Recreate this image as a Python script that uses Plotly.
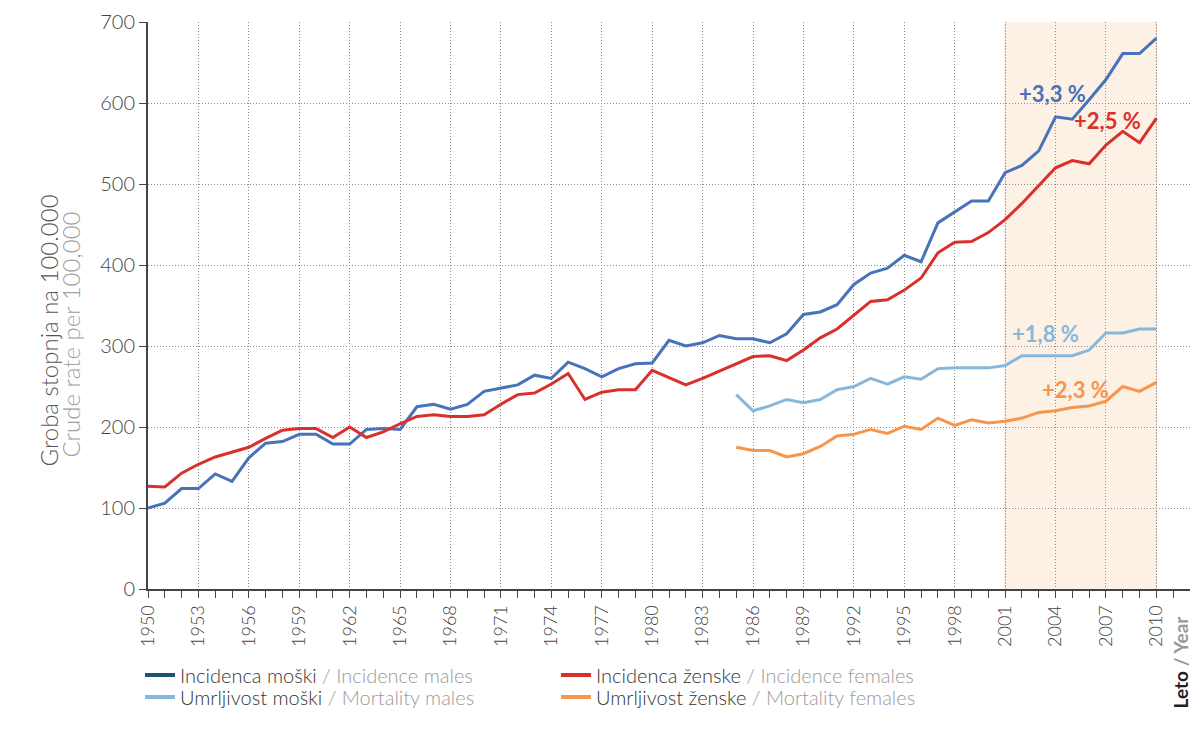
import plotly.graph_objects as go

years = list(range(1950, 2011))
years_mort = list(range(1985, 2011))

inc_males = [100, 106, 124, 124, 142, 133, 162, 180, 182, 191,
             191, 179, 179, 197, 198, 197, 225, 228, 222, 228,
             244, 248, 252, 264, 260, 280, 272, 262, 272, 278,
             279, 307, 300, 304, 313, 309, 309, 304, 315, 339,
             342, 351, 376, 390, 396, 412, 404, 452, 466, 479,
             479, 514, 523, 541, 583, 580, 604, 629, 661, 661,
             680]
inc_females = [127, 126, 143, 154, 163, 169, 175, 186, 196, 198,
               198, 187, 200, 187, 194, 204, 213, 215, 213, 213,
               215, 228, 240, 242, 253, 266, 234, 243, 246, 246,
               270, 261, 252, 260, 269, 278, 287, 288, 282, 295,
               310, 321, 338, 355, 357, 369, 384, 415, 428, 429,
               440, 456, 476, 498, 520, 529, 525, 548, 565, 551,
               581]
mort_males = [240, 220, 226, 234, 230, 234, 246, 250, 260, 253,
              262, 259, 272, 273, 273, 273, 276, 288, 288, 288,
              288, 295, 316, 316, 321, 321]
mort_females = [175, 171, 171, 163, 167, 176, 189, 191, 197, 192,
                201, 197, 211, 202, 209, 205, 207, 211, 218, 220,
                224, 226, 232, 250, 244, 255]

series_names = [
    "Incidenca moški <span style='color:#9a9a9a'>/ Incidence males</span>",
    "Incidenca ženske <span style='color:#9a9a9a'>/ Incidence females</span>",
    "Umrljivost moški <span style='color:#9a9a9a'>/ Mortality males</span>",
    "Umrljivost ženske <span style='color:#9a9a9a'>/ Mortality females</span>",
]
line_colors = ["#4673BA", "#D9302B", "#87B8DC", "#F7954B"]
legend_colors = ["#1F5177", "#D9302B", "#87B8DC", "#F7954B"]
legend_groups = ["legend", "legend", "legend2", "legend2"]

trend_labels = ["+3,3 %", "+2,5 %", "+1,8 %", "+2,3 %"]
shade_start, shade_end = 2001, 2010

FONT = "Lato"

fig = go.Figure()
data = [(years, inc_males), (years, inc_females), (years_mort, mort_males), (years_mort, mort_females)]
for (xs, ys), c in zip(data, line_colors):
    fig.add_trace(go.Scatter(x=xs, y=ys, mode="lines", line=dict(color=c, width=3),
                             showlegend=False, hoverinfo="skip"))
for name, c, lg in zip(series_names, legend_colors, legend_groups):
    fig.add_trace(go.Scatter(x=[None], y=[None], mode="lines", name=name, legend=lg,
                             line=dict(color=c, width=4)))

fig.add_shape(type="rect", xref="x", yref="y", x0=shade_start, x1=shade_end, y0=0, y1=700,
              fillcolor="#FDF0E4", line=dict(width=0), layer="below")
for xv in (shade_start, shade_end):
    fig.add_shape(type="line", xref="x", yref="y", x0=xv, x1=xv, y0=0, y1=700,
                  line=dict(color="#D9A07A", width=1, dash="1px,2px"), layer="below")

# trend annotations
ann_pos = [(2003.8, 612), (2007.1, 578), (2003.4, 315), (2005.2, 246)]
for lab, c, (ax, ay) in zip(trend_labels, line_colors, ann_pos):
    fig.add_annotation(x=ax, y=ay, xref="x", yref="y", text=lab, showarrow=False,
                       font=dict(family=FONT, size=22, color=c, weight=700))

# y axis title
fig.add_annotation(xref="paper", yref="paper", x=(31 - 148) / 1042, y=(589 - 331) / 567,
                   text="Groba stopnja na 100.000", textangle=-90, showarrow=False,
                   font=dict(family=FONT, size=24, color="#555555", weight=300))
fig.add_annotation(xref="paper", yref="paper", x=(53 - 148) / 1042, y=(589 - 335) / 567,
                   text="Crude rate per 100,000", textangle=-90, showarrow=False,
                   font=dict(family=FONT, size=24, color="#a0a0a0", weight=300))
# x axis title
fig.add_annotation(xref="paper", yref="paper", x=(1180 - 148) / 1042, y=(589 - 711) / 567,
                   yanchor="bottom", xanchor="center",
                   text="<b>Leto</b> <b><span style='color:#999999'>/ Year</span></b>",
                   textangle=-90, showarrow=False,
                   font=dict(family=FONT, size=19, color="#222222"))

legend_common = dict(orientation="h", xanchor="left", yanchor="middle",
                     entrywidth=371, entrywidthmode="pixels", itemwidth=30,
                     font=dict(family=FONT, size=20, color="#333333", weight=300),
                     tracegroupgap=0, bgcolor="rgba(0,0,0,0)")

grid_dash = "1px,2px"

fig.update_layout(
    width=1190, height=738,
    margin=dict(l=148, r=0, t=22, b=149, autoexpand=False),
    plot_bgcolor="white", paper_bgcolor="white",
    font=dict(family=FONT, color="#444444"),
    legend=dict(x=(140 - 148) / 1042, y=(589 - 675) / 567, **legend_common),
    legend2=dict(x=(140 - 148) / 1042, y=(589 - 697) / 567, **legend_common),
    xaxis=dict(range=[1950, 2012], tickmode="linear", tick0=1950, dtick=3,
               tickangle=-90, ticks="outside", ticklen=7, tickwidth=1, tickcolor="#444444",
               showline=True, linecolor="#444444", linewidth=2,
               showgrid=True, gridcolor="#8f8f8f", gridwidth=1, griddash=grid_dash,
               tickfont=dict(family=FONT, size=18, color="#444444", weight=300),
               minor=dict(dtick=1, tick0=1950, ticks="outside", ticklen=7, tickcolor="#444444",
                          showgrid=False),
               zeroline=False, automargin=False),
    yaxis=dict(range=[0, 700], tickmode="linear", tick0=0, dtick=100,
               ticks="outside", ticklen=7, tickcolor="#444444",
               showline=True, linecolor="#444444", linewidth=2,
               showgrid=True, gridcolor="#8f8f8f", gridwidth=1, griddash=grid_dash,
               tickfont=dict(family=FONT, size=20, color="#444444", weight=300),
               zeroline=False, automargin=False),
)

fig.write_html("out.html", config={"displayModeBar": False},
               post_script="document.body.style.margin='0';document.body.style.overflow='hidden';")
